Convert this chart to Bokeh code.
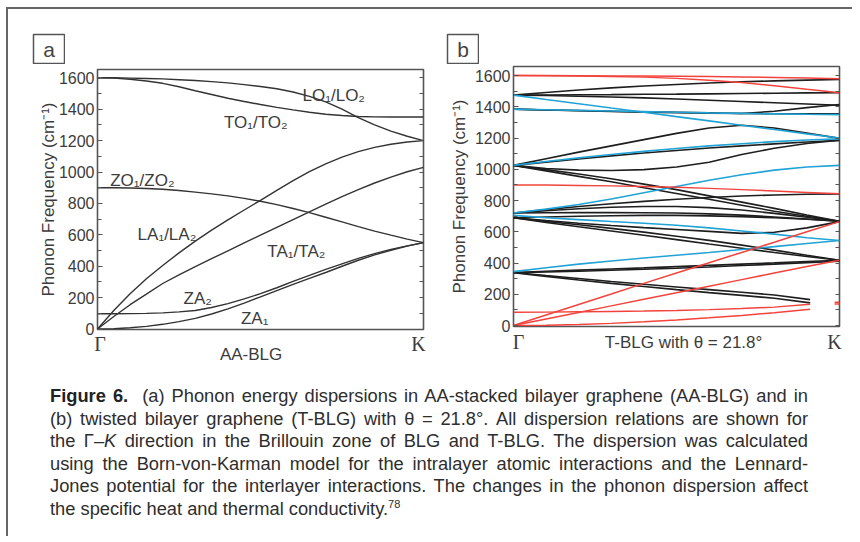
from bokeh.plotting import figure
from bokeh.models import Range1d, FixedTicker, LinearAxis, Div, Spacer
from bokeh.layouts import column, row
from bokeh.embed import file_html
from bokeh.resources import INLINE
from bokeh.core.properties import value

# ---------------- data ----------------
K_FINE = [0.0, 0.05, 0.1, 0.15, 0.2, 0.25, 0.3, 0.35, 0.4, 0.45, 0.5,
          0.55, 0.6, 0.65, 0.7, 0.75, 0.8, 0.85, 0.9, 0.95, 1.0]
K_GRID = [0.0, 0.1, 0.2, 0.3, 0.4, 0.5, 0.6, 0.7, 0.8, 0.9, 1.0]
K_SHORT = [0.0, 0.1, 0.2, 0.3, 0.4, 0.5, 0.6, 0.7, 0.8, 0.91]
K_EDGE = [0.985, 1.0]

Y_TICKS = [0, 200, 400, 600, 800, 1000, 1200, 1400, 1600]
Y_MINOR = [100, 300, 500, 700, 900, 1100, 1300, 1500]
X_TICKS = [0, 1]
X_TICK_LABELS = ["Γ", "K"]

# panel a : AA-BLG  (values at K_FINE)
A_LO = [1600, 1600, 1598, 1596, 1593, 1588, 1583, 1576, 1568, 1557, 1545,
        1530, 1510, 1482, 1447, 1400, 1347, 1300, 1260, 1228, 1200]
A_TO = [1600, 1598, 1591, 1580, 1565, 1543, 1518, 1494, 1470, 1449, 1430,
        1412, 1396, 1381, 1368, 1360, 1354, 1351, 1350, 1350, 1350]
A_ZO = [900, 900, 898, 895, 890, 882, 872, 861, 848, 832, 814,
        792, 768, 741, 712, 682, 652, 624, 598, 573, 550]
A_LA = [0, 118, 225, 320, 405, 485, 560, 630, 695, 758, 820,
        883, 945, 1002, 1052, 1095, 1130, 1157, 1177, 1191, 1200]
A_TA = [0, 80, 155, 222, 290, 345, 398, 448, 498, 548, 598,
        648, 697, 746, 795, 843, 888, 930, 968, 1002, 1030]
A_ZA2 = [97, 97, 98, 100, 103, 109, 118, 137, 162, 192, 225,
         263, 303, 342, 380, 415, 450, 480, 507, 530, 550]
A_ZA1 = [0, 2, 8, 17, 30, 47, 68, 96, 128, 165, 205,
         245, 285, 323, 360, 400, 438, 472, 502, 528, 550]
A_CURVES = [A_LO, A_TO, A_ZO, A_LA, A_TA, A_ZA2, A_ZA1]
A_NAMES = ["LO₁/LO₂", "TO₁/TO₂", "ZO₁/ZO₂", "LA₁/LA₂", "TA₁/TA₂", "ZA₂", "ZA₁"]
A_NAME_X = [0.629, 0.388, 0.039, 0.123, 0.521, 0.264, 0.44]
A_NAME_Y = [1488, 1318, 943, 599, 493, 197, 70]
A_TITLE = "AA-BLG"

# panel b : T-BLG, theta = 21.8 deg  (values at K_GRID / K_SHORT)
B_RED = [
    [1600, 1600, 1599, 1598, 1597, 1596, 1594, 1591, 1588, 1584, 1580],
    [1600, 1599, 1597, 1594, 1590, 1582, 1570, 1555, 1535, 1512, 1490],
    [900, 899, 897, 894, 890, 885, 878, 870, 861, 852, 843],
    [0, 68, 135, 202, 270, 336, 402, 468, 533, 600, 665],
    [0, 42, 84, 126, 168, 210, 252, 294, 336, 378, 418],
]
B_RED_SHORT = [
    [85, 86, 88, 90, 93, 97, 102, 109, 118, 136],
    [0, 2, 7, 14, 24, 36, 50, 65, 82, 104],
]
B_RED_EDGE = [[150, 150], [138, 138]]
B_CYAN = [
    [1475, 1447, 1420, 1392, 1365, 1337, 1310, 1282, 1255, 1227, 1200],
    [1385, 1381, 1377, 1373, 1369, 1365, 1361, 1358, 1355, 1352, 1350],
    [1025, 1050, 1073, 1095, 1115, 1133, 1150, 1164, 1177, 1188, 1195],
    [720, 745, 775, 810, 850, 890, 930, 965, 995, 1015, 1025],
    [705, 690, 678, 666, 655, 642, 625, 605, 585, 562, 544],
    [345, 370, 393, 413, 432, 450, 468, 487, 505, 525, 544],
]
B_BLACK = [
    [1475, 1492, 1508, 1521, 1533, 1543, 1552, 1560, 1566, 1571, 1575],
    [1475, 1476, 1477, 1478, 1480, 1481, 1483, 1485, 1487, 1489, 1490],
    [1475, 1472, 1468, 1463, 1457, 1450, 1442, 1434, 1426, 1418, 1410],
    [1385, 1380, 1376, 1372, 1368, 1365, 1362, 1357, 1372, 1395, 1415],
    [1385, 1380, 1375, 1370, 1366, 1362, 1359, 1357, 1356, 1355, 1355],
    [1025, 1068, 1110, 1150, 1190, 1230, 1264, 1282, 1264, 1232, 1198],
    [1025, 1046, 1066, 1086, 1104, 1120, 1136, 1150, 1163, 1175, 1185],
    [1025, 1005, 995, 992, 998, 1015, 1045, 1095, 1135, 1165, 1187],
    [1025, 998, 970, 940, 905, 870, 830, 790, 750, 708, 668],
    [1025, 990, 955, 920, 882, 845, 808, 770, 732, 700, 668],
    [720, 742, 762, 780, 795, 808, 820, 829, 836, 840, 843],
    [720, 735, 748, 757, 762, 762, 755, 740, 718, 693, 668],
    [720, 722, 723, 723, 722, 720, 715, 707, 695, 682, 668],
    [690, 695, 700, 703, 705, 705, 702, 697, 690, 680, 668],
    [690, 672, 655, 640, 627, 615, 603, 590, 597, 625, 665],
    [690, 660, 632, 605, 578, 550, 522, 495, 468, 442, 418],
    [690, 667, 645, 622, 598, 572, 545, 515, 483, 450, 418],
    [340, 348, 355, 362, 369, 377, 385, 393, 401, 410, 418],
    [338, 343, 348, 354, 360, 367, 375, 384, 393, 403, 412],
]
B_BLACK_SHORT = [
    [340, 320, 301, 282, 264, 247, 230, 213, 196, 166],
    [338, 315, 292, 270, 250, 230, 211, 193, 175, 145],
]
B_TITLE = "T-BLG with θ = 21.8°"

CAPTION_BOLD = "Figure 6."
CAPTION_LINES = [
    "&nbsp; (a) Phonon energy dispersions in AA-stacked bilayer graphene (AA-BLG) and in",
    "(b) twisted bilayer graphene (T-BLG) with θ = 21.8°. All dispersion relations are shown for",
    "the Γ–<i>K</i> direction in the Brillouin zone of BLG and T-BLG. The dispersion was calculated",
    "using the Born-von-Karman model for the intralayer atomic interactions and the Lennard-",
    "Jones potential for the interlayer interactions. The changes in the phonon dispersion affect",
    "the specific heat and thermal conductivity.<sup style='font-size:11px;vertical-align:7px;line-height:0'>78</sup>",
]
CAPTION_BASELINES = [402, 425, 447, 470, 492, 515]

# ---------------- styling helpers ----------------
SANS = "Liberation Sans"
SERIF = "Liberation Serif"
TXT = "#3c3c3c"
FRAME = "#555555"
NB = "\u00a0"


def make_panel(width, height, ylo, yhi, left, right, top, bottom,
               ylab_standoff, xlab_standoff, title, tick_names, title_standoff):
    p = figure(width=width, height=height, x_range=Range1d(0, 1), y_range=Range1d(ylo, yhi),
               output_backend="svg", toolbar_location=None, x_axis_location=None,
               min_border_left=left, min_border_right=right, min_border_top=top,
               min_border_bottom=bottom)
    p.grid.visible = False
    p.outline_line_color = FRAME
    p.outline_line_width = 1.6
    p.background_fill_color = "white"
    p.border_fill_color = "white"
    ax = p.yaxis[0]
    ax.ticker = FixedTicker(ticks=Y_TICKS, minor_ticks=Y_MINOR)
    ax.axis_line_color = None
    ax.major_tick_in = 5
    ax.major_tick_out = 0
    ax.minor_tick_in = 4
    ax.minor_tick_out = 0
    ax.major_tick_line_color = FRAME
    ax.minor_tick_line_color = FRAME
    ax.major_tick_line_width = 1.2
    ax.minor_tick_line_width = 1.2
    ax.major_label_text_font = SANS
    ax.major_label_text_font_size = "16px"
    ax.major_label_text_color = TXT
    ax.major_label_standoff = 3
    ax.axis_label = "Phonon Frequency (cm⁻¹)"
    ax.axis_label_text_font = SANS
    ax.axis_label_text_font_size = "17px"
    ax.axis_label_text_font_style = "normal"
    ax.axis_label_text_color = TXT
    ax.axis_label_standoff = ylab_standoff

    rax = LinearAxis(ticker=FixedTicker(ticks=[], minor_ticks=Y_TICKS + Y_MINOR))
    rax.axis_line_color = None
    rax.minor_tick_in = 4
    rax.minor_tick_out = 0
    rax.minor_tick_line_color = FRAME
    rax.minor_tick_line_width = 1.2
    rax.major_tick_in = 0
    rax.major_tick_out = 0
    p.add_layout(rax, "right")

    xax = LinearAxis(ticker=FixedTicker(ticks=X_TICKS),
                     major_label_overrides={X_TICKS[0]: tick_names[0], X_TICKS[1]: tick_names[1]})
    xax.axis_line_color = None
    xax.major_tick_in = 0
    xax.major_tick_out = 0
    xax.minor_tick_line_color = None
    xax.major_tick_line_color = None
    xax.major_label_text_font = SERIF
    xax.major_label_text_font_size = "20px"
    xax.major_label_text_color = TXT
    xax.major_label_standoff = xlab_standoff
    xax.axis_label = title
    xax.axis_label_text_font = SANS
    xax.axis_label_text_font_size = "17px"
    xax.axis_label_text_font_style = "normal"
    xax.axis_label_text_color = TXT
    xax.axis_label_standoff = title_standoff
    p.add_layout(xax, "below")
    return p


def letter_box(letter):
    f = figure(width=33, height=31, x_range=Range1d(0, 1), y_range=Range1d(0, 1),
               output_backend="svg", toolbar_location=None, x_axis_location=None,
               y_axis_location=None, min_border=1)
    f.grid.visible = False
    f.outline_line_color = FRAME
    f.outline_line_width = 1.5
    f.background_fill_color = "white"
    f.border_fill_color = "white"
    f.text(x=[0.5], y=[0.5], text=[letter], text_font=value(SANS), text_font_size="21px",
           text_color="#444444", text_align="center", text_baseline="middle")
    return f


PANEL_H = 303

# ---------------- panel a ----------------
pa = make_panel(428, PANEL_H, -3, 1653, 89, 13, 5, PANEL_H - 265, -2, 3,
                A_TITLE + NB * 4, [NB + X_TICK_LABELS[0], X_TICK_LABELS[1] + NB * 2], -13)
pa.multi_line([K_FINE] * len(A_CURVES), A_CURVES, line_color="#333333", line_width=1.4)
pa.text(x=A_NAME_X, y=A_NAME_Y, text=A_NAMES, text_font=value(SANS), text_font_size="17px",
        text_color=TXT, text_align="left", text_baseline="alphabetic")

# ---------------- panel b ----------------
pb = make_panel(416, PANEL_H, -6, 1658, 77, 13, 2, PANEL_H - 262, 3, 4,
                NB * 3 + B_TITLE, [NB * 2 + X_TICK_LABELS[0], X_TICK_LABELS[1] + NB * 2], -23)
pb.multi_line([K_GRID] * len(B_BLACK), B_BLACK, line_color="#1e1e1e", line_width=1.6)
pb.multi_line([K_SHORT] * len(B_BLACK_SHORT), B_BLACK_SHORT, line_color="#1e1e1e", line_width=1.6)
pb.multi_line([K_GRID] * len(B_CYAN), B_CYAN, line_color="#21a3d6", line_width=1.6)
pb.multi_line([K_GRID] * len(B_RED), B_RED, line_color="#f2433d", line_width=1.5)
pb.multi_line([K_SHORT] * len(B_RED_SHORT), B_RED_SHORT, line_color="#f2433d", line_width=1.5)
pb.multi_line([K_EDGE] * len(B_RED_EDGE), B_RED_EDGE, line_color="#f2433d", line_width=1.5)

col_a = column(Spacer(width=428, height=24), row(Spacer(width=24, height=31), letter_box("a")), pa)
col_b = column(Spacer(width=416, height=24), row(Spacer(width=10, height=31), letter_box("b")), pb)

# ---------------- caption ----------------
DIV_TOP = 9 + 24 + 31 + PANEL_H
parts = []
n = len(CAPTION_LINES)
for i, (txt, base) in enumerate(zip(CAPTION_LINES, CAPTION_BASELINES)):
    top = base - DIV_TOP - 17.3
    b = f"<b style='color:#222'>{CAPTION_BOLD}</b>" if i == 0 else ""
    just = "text-align:justify;text-align-last:justify;" if i < n - 1 else "text-align:left;"
    parts.append(f"<div style='position:absolute;left:42px;top:{top:.1f}px;width:758px;"
                 f"line-height:22px;{just}'>{b}{txt}</div>")
html = ("<div style=\"position:relative;width:844px;height:169px;font-family:'Liberation Sans',Arial,sans-serif;"
        "font-size:18.3px;color:#2e2e2e;\">" + "".join(parts) + "</div>")
cap = Div(text=html, width=844, height=169, margin=0)

layout = column(row(col_a, col_b), cap, margin=(7, 0, 0, 6),
                styles={"border-left": "2px solid #666666", "border-top": "2px solid #666666"})

open("out.html", "w").write(file_html(layout, INLINE))
